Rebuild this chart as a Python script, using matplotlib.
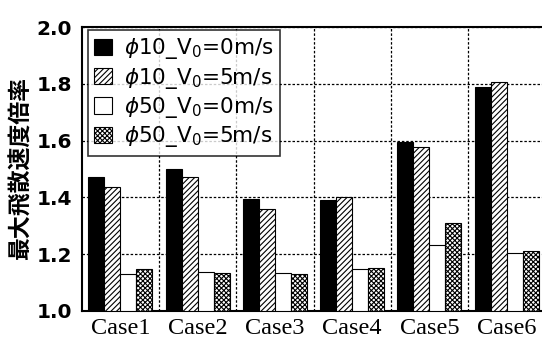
import matplotlib
matplotlib.use("Agg")
import matplotlib.pyplot as plt
import numpy as np

cases = ["Case1", "Case2", "Case3", "Case4", "Case5", "Case6"]
labels = [r"$\phi$10_V$_0$=0m/s", r"$\phi$10_V$_0$=5m/s",
          r"$\phi$50_V$_0$=0m/s", r"$\phi$50_V$_0$=5m/s"]
s1 = [1.47, 1.50, 1.395, 1.39, 1.595, 1.79]
s2 = [1.435, 1.473, 1.36, 1.40, 1.577, 1.806]
s3 = [1.13, 1.137, 1.135, 1.146, 1.233, 1.205]
s4 = [1.146, 1.133, 1.129, 1.15, 1.309, 1.211]
yticks = [1.0, 1.2, 1.4, 1.6, 1.8, 2.0]

plt.rcParams['hatch.linewidth'] = 0.8
fig = plt.figure(figsize=(5.42, 3.42), dpi=100)
ax = fig.add_axes([0.151, 0.091, 0.855, 0.830])

x = np.arange(len(cases))
w = 0.207
styles = [dict(color="black", edgecolor="black"),
          dict(facecolor="white", edgecolor="black", hatch="//////"),
          dict(facecolor="white", edgecolor="black"),
          dict(facecolor="white", edgecolor="black", hatch="xxxxxxx")]
series = [s1, s2, s3, s4]
handles = []
for i, (s, st) in enumerate(zip(series, styles)):
    b = ax.bar(x + (i - 1.5) * w, np.array(s) - 1.0, w, bottom=1.0,
               linewidth=0.8, zorder=3, **st)
    handles.append(b)

ax.set_xlim(-0.5, 5.5)
ax.set_ylim(1.0, 2.0)
ax.set_yticks(yticks)
ax.set_yticklabels([f"{v:.1f}" for v in yticks], fontfamily="DejaVu Sans",
                   fontweight="bold", fontsize=14.5)
ax.set_xticks(x)
ax.set_xticklabels(cases, fontfamily="Liberation Serif", fontsize=17.5)
ax.set_xticks(np.arange(0.5, 5.5, 1.0), minor=True)
ax.tick_params(axis="x", which="both", length=0, pad=5)
ax.tick_params(axis="y", length=0, pad=7)
ax.grid(True, axis="y", linestyle=(0, (2, 1.5)), color="black", linewidth=0.9, zorder=0)
ax.grid(True, axis="x", which="minor", linestyle=(0, (2, 1.5)), color="black", linewidth=0.9, zorder=0)
for sp in ["left", "top", "bottom"]:
    ax.spines[sp].set_linewidth(1.5)
ax.spines["right"].set_visible(False)

ax.set_ylabel("最大飛散速度倍率", fontfamily="Noto Sans CJK JP", fontweight="bold",
              fontsize=16.5, labelpad=3)

leg = ax.legend(handles, labels, loc="upper left", bbox_to_anchor=(0.013, 0.99),
                borderaxespad=0.0,
                prop={"family": "DejaVu Sans", "size": 15.5}, frameon=True, fancybox=False,
                edgecolor="black", handlelength=0.8, handleheight=0.8,
                handletextpad=0.6, borderpad=0.3, labelspacing=0.2)
leg.get_frame().set_linewidth(1.2)
leg.set_zorder(5)

fig.savefig("out.png", dpi=100)
